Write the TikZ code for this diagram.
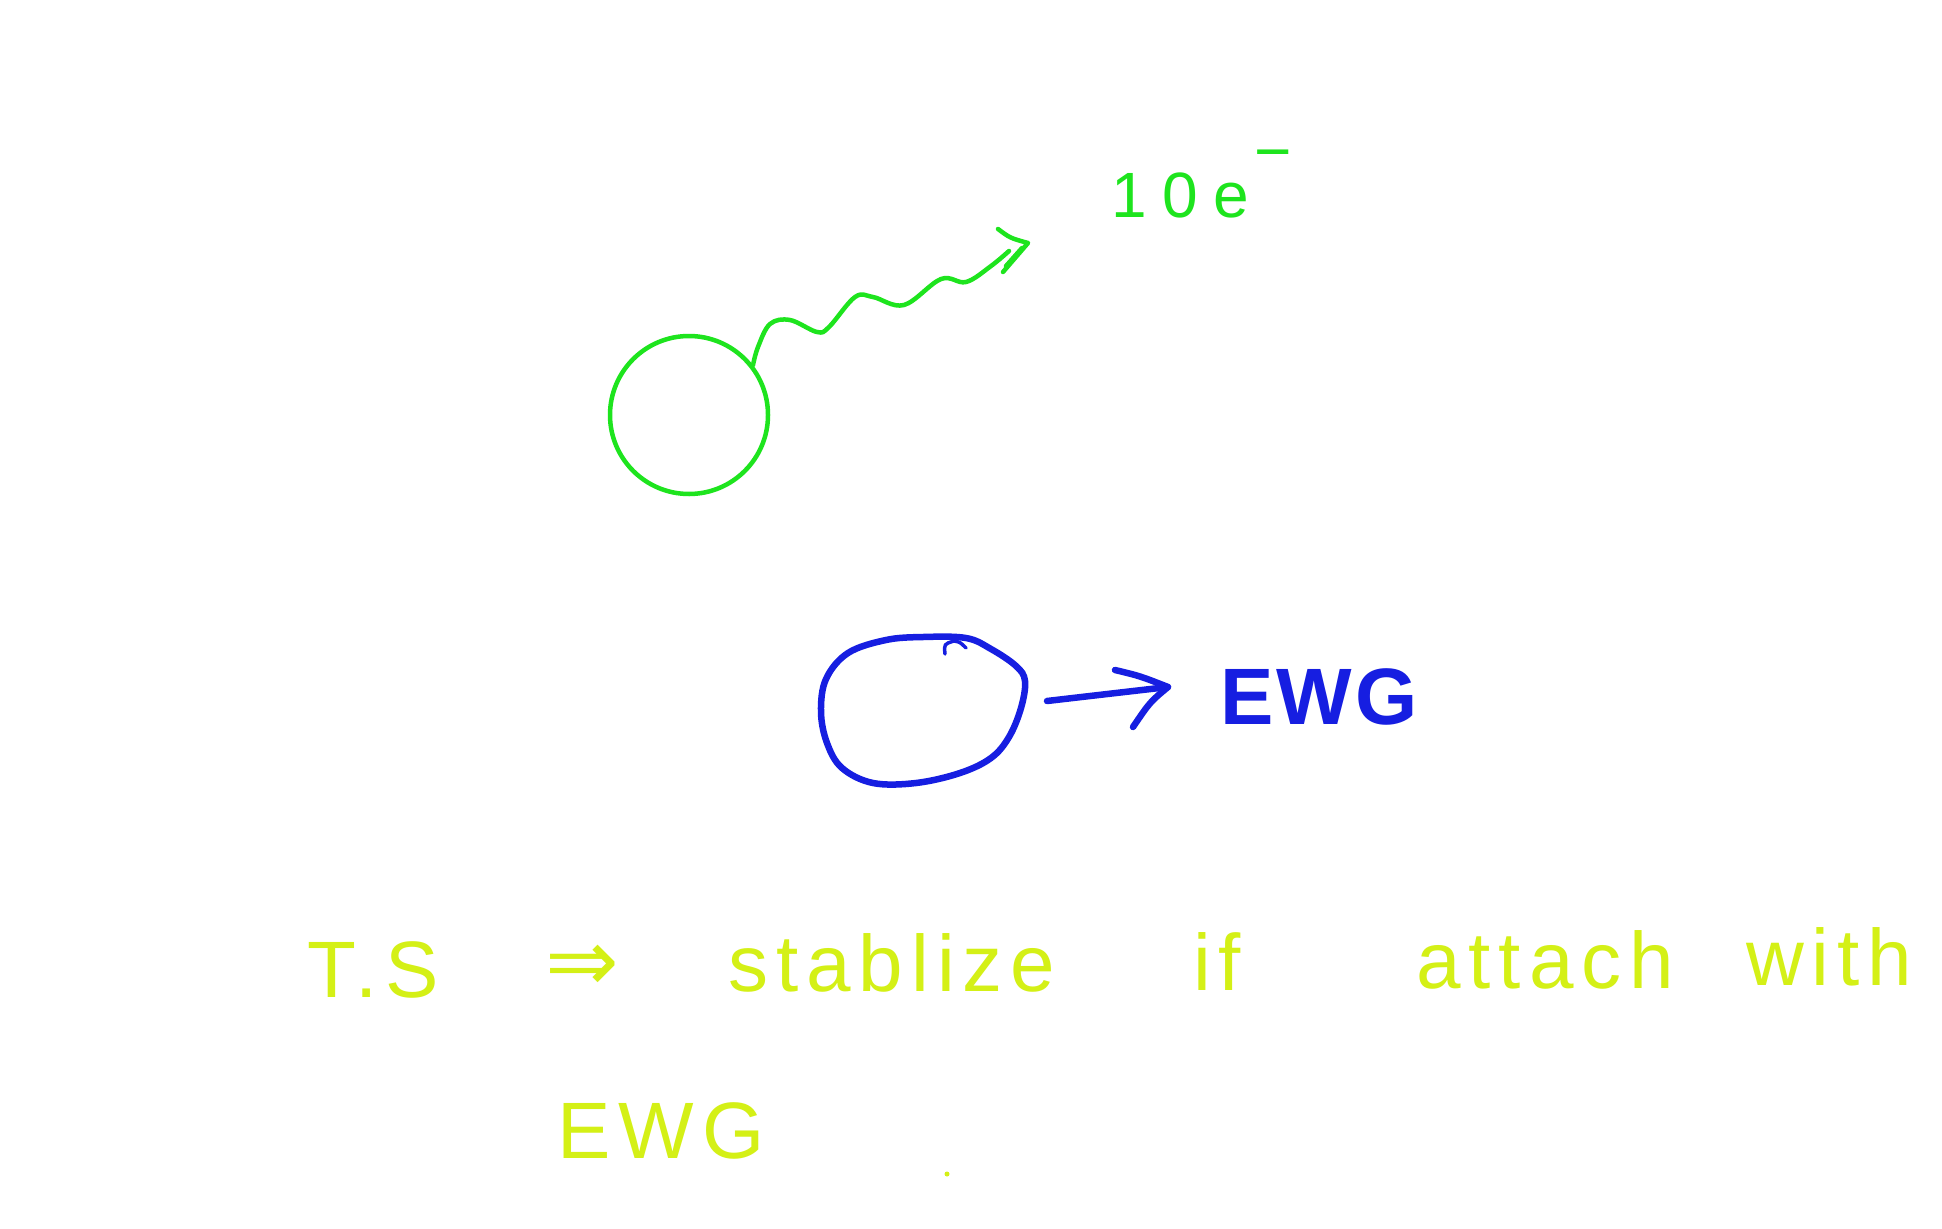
\documentclass[tikz,border=0pt]{standalone}
\usepackage{fontspec}
\setmainfont{Liberation Sans}
\newfontfamily\handfont[LetterSpace=10]{Liberation Sans}
\newfontfamily\greenfont[LetterSpace=24]{Liberation Sans}
\newfontfamily\bluefont[LetterSpace=4]{Liberation Sans}
\newfontfamily\symfont{DejaVu Sans}
\definecolor{pgreen}{RGB}{30,228,30}
\definecolor{pblue}{RGB}{22,30,225}
\definecolor{pyellow}{RGB}{212,240,22}
\tikzset{
  greenline/.style={draw=pgreen, line width=4.5pt, line cap=round, line join=round},
  blueline/.style={draw=pblue, line width=6.5pt, line cap=round, line join=round},
  yellowtext/.style={text=pyellow, anchor=base west, inner sep=0pt, font=\handfont\fontsize{80}{96}\selectfont},
  greentext/.style={text=pgreen, anchor=base west, inner sep=0pt, font=\greenfont\fontsize{64}{76}\selectfont},
  bluetext/.style={text=pblue, anchor=base west, inner sep=0pt, font=\bluefont\bfseries\fontsize{80}{96}\selectfont},
}
\begin{document}
\begin{tikzpicture}[x=1pt,y=-1pt]
\useasboundingbox (0,0) rectangle (1942,1228);
\fill[white] (0,0) rectangle (1942,1228);

% green circle and wavy arrow
\node[circle, greenline, minimum size=158pt, inner sep=0pt] (gc) at (689,415) {};
\coordinate (gtip) at (1028,243);
\draw[greenline] plot[smooth, tension=0.6] coordinates {(gc.38) (758,347) (770,324) (790,320) (817,332) (829,327) (855,297) (873,297) (904,305) (941,279) (966,282) (991,266) (1009,251)};
\draw[greenline] (998,229) .. controls (1010,238) .. (gtip) -- (1003,272);
\draw[greenline] (1006,266) -- (1022,248);
\node[greentext] (tenelec) at (1111,217) {10e\kern6pt\raisebox{44pt}{−}};

% blue blob and arrow
\draw[blueline] plot[smooth cycle, tension=0.6] coordinates {(821,712) (826,679) (848,653) (886,640) (923,637) (966,638) (991,649) (1016,666) (1025,681) (1021,708) (1009,737) (991,758) (960,773) (916,783) (873,783) (842,768) (827,743)};
\draw[blueline, line width=3.5pt] (945,654) .. controls (944,644) .. (954,641) .. controls (960,642) .. (966,648);
\coordinate (bstart) at (1047,701);
\coordinate (btip) at (1168,687);
\node[bluetext] (ewgblue) at (1220,724) {EWG};
\draw[blueline] (bstart) .. controls (1090,696) .. (btip);
\draw[blueline] (1115,670) .. controls (1140,676) .. (btip) .. controls (1150,702) .. (1133,727);

% yellow text
\node[yellowtext] (ts) at (307,997) {T.S};
\node[text=pyellow, inner sep=0pt, font=\symfont\fontsize{88}{100}\selectfont] (imp) at (582,968) {⇒};
\node[yellowtext] (stab) at (728,991) {stablize};
\node[yellowtext] (if) at (1193,990) {if};
\node[yellowtext] (attach) at (1416,988) {attach};
\node[yellowtext] (with) at (1746,985) {with};
\node[yellowtext] (ewgyel) at (557,1158) {EWG};
\fill[pyellow] (947,1174) circle (2.5pt);
\end{tikzpicture}
\end{document}
